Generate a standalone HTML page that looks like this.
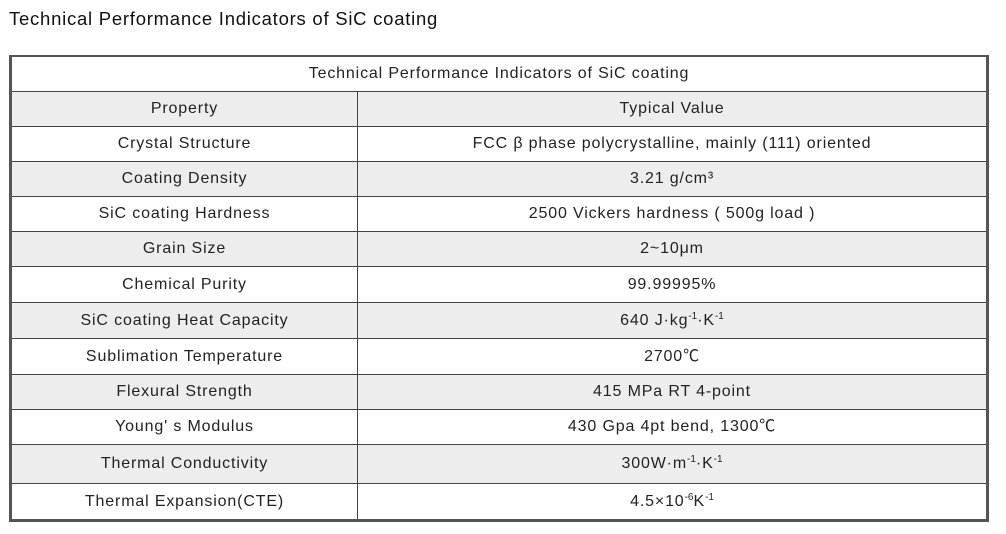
<!DOCTYPE html>
<html><head><meta charset="utf-8"><style>
body{margin:0;width:1006px;height:534px;background:#fff;font-family:"Liberation Sans","Noto Sans CJK SC",sans-serif;color:#222;position:relative;overflow:hidden}
.t{position:absolute;left:9px;top:8px;font-size:18.5px;color:#111;letter-spacing:.75px}
.tb{position:absolute;left:9px;top:55px;width:974px;height:462px;border:3px solid #555;border-top-width:2px}
.r{position:absolute;left:0;width:974px;border-top:1px solid #444;box-sizing:border-box}
.c{position:absolute;top:0;height:100%;display:flex;align-items:center;justify-content:center;font-size:16px;letter-spacing:.85px;line-height:18px}
.a{left:0;width:346px;border-right:1px solid #444;box-sizing:border-box}
.b{left:346px;width:628px}
.g{background:#ededed}
sup{font-size:10px;vertical-align:6px;line-height:0;letter-spacing:0}
.d{line-height:0}
</style></head><body>
<div class="t">Technical Performance Indicators of SiC coating</div>
<div class="tb">
<div class="r" style="top:0;height:34px;border-top:0"><div class="c" style="left:0;width:974px">Technical Performance Indicators of SiC coating</div></div>
<div class="r g" style="top:34px;height:35px"><div class="c a">Property</div><div class="c b">Typical Value</div></div>
<div class="r" style="top:69px;height:35px"><div class="c a">Crystal Structure</div><div class="c b">FCC β phase polycrystalline, mainly (111) oriented</div></div>
<div class="r g" style="top:104px;height:35px"><div class="c a">Coating Density</div><div class="c b">3.21 g/cm³</div></div>
<div class="r" style="top:139px;height:35px"><div class="c a">SiC coating Hardness</div><div class="c b"><span>2500 Vickers hardness ( 500g load )</span></div></div>
<div class="r g" style="top:174px;height:35px"><div class="c a">Grain Size</div><div class="c b">2~10μm</div></div>
<div class="r" style="top:209px;height:36px"><div class="c a">Chemical Purity</div><div class="c b">99.99995%</div></div>
<div class="r g" style="top:245px;height:36px"><div class="c a">SiC coating Heat Capacity</div><div class="c b"><span>640 J·kg<sup>-1</sup>·K<sup>-1</sup></span></div></div>
<div class="r" style="top:281px;height:36px"><div class="c a">Sublimation Temperature</div><div class="c b"><span>2700<span class="d">℃</span></span></div></div>
<div class="r g" style="top:317px;height:35px"><div class="c a">Flexural Strength</div><div class="c b">415 MPa RT 4-point</div></div>
<div class="r" style="top:352px;height:35px"><div class="c a">Young' s Modulus</div><div class="c b"><span>430 Gpa 4pt bend, 1300<span class="d">℃</span></span></div></div>
<div class="r g" style="top:387px;height:39px"><div class="c a">Thermal Conductivity</div><div class="c b"><span>300W·m<sup>-1</sup>·K<sup>-1</sup></span></div></div>
<div class="r" style="top:426px;height:36px"><div class="c a">Thermal Expansion(CTE)</div><div class="c b"><span>4.5×10<sup>-6</sup>K<sup>-1</sup></span></div></div>
</div>
</body></html>
